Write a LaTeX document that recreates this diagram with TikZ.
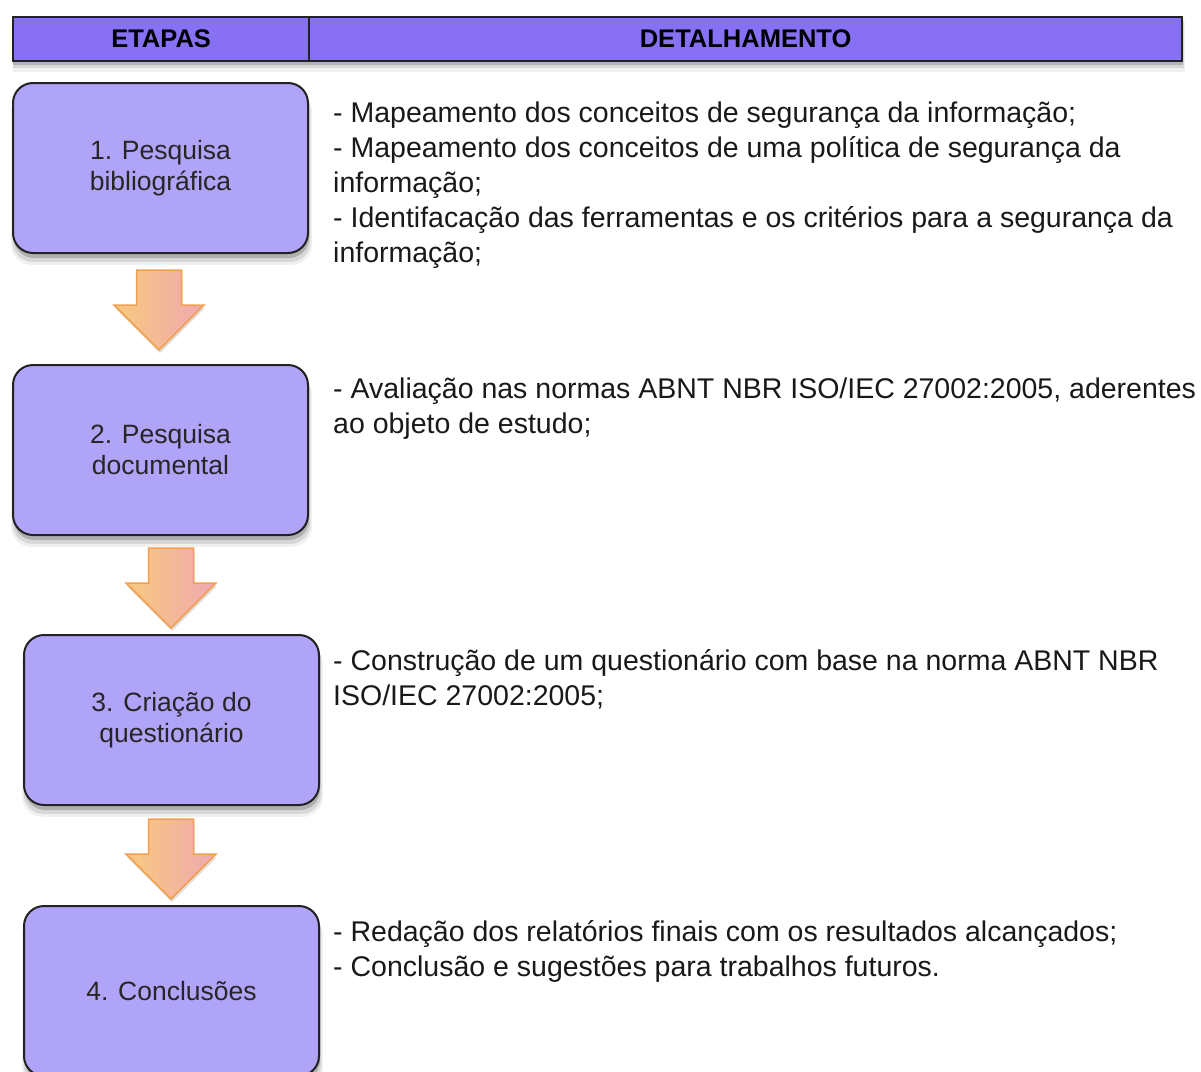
\documentclass[tikz,border=0pt]{standalone}
\usepackage{fontspec}
\setmainfont{Liberation Sans}
\usetikzlibrary{shadows,calc}
\definecolor{hdrfill}{HTML}{8870F5}
\definecolor{boxfill}{HTML}{B0A4F8}
\definecolor{boxline}{HTML}{222222}
\definecolor{arrL}{HTML}{F8CA7E}
\definecolor{arrR}{HTML}{EFA8B0}
\definecolor{arrline}{HTML}{F2A050}
\tikzset{
  x=1pt, y=-1pt,
  softshadow/.style={
    drop shadow={shadow xshift=1pt, shadow yshift=-10pt, opacity=.06, fill=black, shadow scale=1.02},
    drop shadow={shadow xshift=1pt, shadow yshift=-8pt, opacity=.10, fill=black, shadow scale=1.01},
    drop shadow={shadow xshift=1pt, shadow yshift=-5pt, opacity=.18, fill=black}},
  hdrcell/.style={draw=boxline, line width=2.2pt, fill=hdrfill, inner sep=0pt, anchor=north west,
    minimum height=44pt, font=\fontsize{25.5}{30}\selectfont\bfseries},
  stagebox/.style={draw=boxline, line width=2pt, fill=boxfill, rounded corners=20pt, softshadow,
    minimum width=295pt, minimum height=170pt, anchor=north west, inner sep=0pt, align=center,
    font=\fontsize{26.5}{31}\selectfont, text=black!85},
  detail/.style={anchor=north west, inner sep=0pt, align=left, font=\fontsize{28.5}{35}\selectfont, text=black!90},
  flowarrow/.style={draw=arrline, line width=1.5pt, left color=arrL, right color=arrR, line join=miter,
    drop shadow={shadow xshift=1pt, shadow yshift=-3pt, opacity=.12, fill=black}}
}
\newcommand{\flowdown}[3]{% name, x, ytop
  \coordinate (#1) at (#2,#3);
  \path[flowarrow] ($(#1)+(-22.5,0)$) -- ($(#1)+(22.5,0)$) -- ($(#1)+(22.5,35)$) -- ($(#1)+(45,35)$)
    -- ($(#1)+(0,80)$) -- ($(#1)+(-45,35)$) -- ($(#1)+(-22.5,35)$) -- cycle;
}
\begin{document}
\begin{tikzpicture}
\clip (0,0) rectangle (1201,1071);
\fill[white] (0,0) rectangle (1201,1071);
% header shadow
\fill[black, opacity=.06] (13,22) rectangle (1185,72);
\fill[black, opacity=.10] (13,20) rectangle (1184,68);
\fill[black, opacity=.16] (13,18) rectangle (1183,65);
% header
\node[hdrcell, minimum width=296pt] (hEtapas) at (12,16) {ETAPAS};
\node[hdrcell, minimum width=873pt] (hDet) at (308,16) {DETALHAMENTO};
% stage boxes
\node[stagebox] (s1) at (12,82) {1. Pesquisa\\bibliográfica};
\node[stagebox] (s2) at (12,364) {2. Pesquisa\\documental};
\node[stagebox] (s3) at (23,634) {3. Criação do\\questionário};
\node[stagebox] (s4) at (23,905) {4. Conclusões};
% arrows
\flowdown{a1}{159}{270}
\flowdown{a2}{171}{548}
\flowdown{a3}{171}{819}
% details
\node[detail] (d1) at (333,97.5) {\strut- Mapeamento dos conceitos de segurança da informação;\\
\strut- Mapeamento dos conceitos de uma política de segurança da\\
\strut informação;\\
\strut- Identifacação das ferramentas e os critérios para a segurança da\\
\strut informação;};
\node[detail] (d2) at (333,373.5) {\strut- Avaliação nas normas ABNT NBR ISO/IEC 27002:2005, aderentes\\
\strut ao objeto de estudo;};
\node[detail] (d3) at (333,645.5) {\strut- Construção de um questionário com base na norma ABNT NBR\\
\strut ISO/IEC 27002:2005;};
\node[detail] (d4) at (333,916.5) {\strut- Redação dos relatórios finais com os resultados alcançados;\\
\strut- Conclusão e sugestões para trabalhos futuros.};
\end{tikzpicture}
\end{document}
